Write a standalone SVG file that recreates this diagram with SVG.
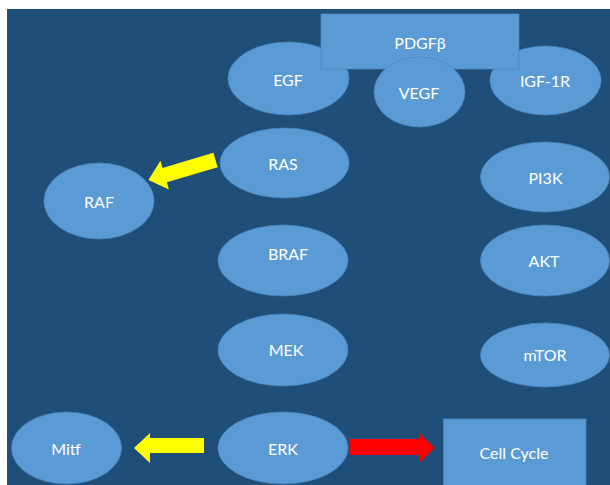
<svg xmlns="http://www.w3.org/2000/svg" width="610" height="485" viewBox="0 0 610 485">
<style>
.n{fill:#5B9BD5;stroke:#4A86BE;stroke-width:0.8}
.t{fill:#FFFFFF;font-family:Lato,"Open Sans","Liberation Sans",sans-serif;font-size:16px;text-anchor:middle;dominant-baseline:central}
.y{fill:#FFFF00}
.r{fill:#FF0000}
</style>
<rect x="0" y="0" width="610" height="485" fill="#FFFFFF"/>
<rect x="7" y="9" width="603" height="476" fill="#1F4E79"/>
<g id="EGF"><ellipse class="n" cx="288.5" cy="78.5" rx="60.5" ry="36.5"/><text class="t" x="288" y="79">EGF</text></g>
<g id="IGF-1R"><ellipse class="n" cx="545.5" cy="80.5" rx="55.5" ry="34.5"/><text class="t" x="545" y="80">IGF-1R</text></g>
<g id="PDGFb"><rect class="n" x="321" y="14" width="198" height="55"/><text class="t" x="420" y="42">PDGFβ</text></g>
<g id="VEGF"><ellipse class="n" cx="419.5" cy="92" rx="45.5" ry="35"/><text class="t" x="419" y="92">VEGF</text></g>
<g id="RAS"><ellipse class="n" cx="284.5" cy="163" rx="64.5" ry="35"/><text class="t" x="283" y="163">RAS</text></g>
<g id="RAF"><ellipse class="n" cx="99" cy="201" rx="55" ry="38"/><text class="t" x="99" y="201">RAF</text></g>
<g id="PI3K"><ellipse class="n" cx="545" cy="177" rx="64.5" ry="35"/><text class="t" x="545.5" y="177">PI3K</text></g>
<g id="BRAF"><ellipse class="n" cx="283" cy="260.5" rx="65" ry="35.5"/><text class="t" x="288" y="253">BRAF</text></g>
<g id="AKT"><ellipse class="n" cx="545" cy="260.5" rx="64.5" ry="35.5"/><text class="t" x="544" y="260">AKT</text></g>
<g id="MEK"><ellipse class="n" cx="283" cy="350" rx="65" ry="36"/><text class="t" x="286" y="349">MEK</text></g>
<g id="mTOR"><ellipse class="n" cx="545" cy="355" rx="64.5" ry="32"/><text class="t" x="545" y="354">mTOR</text></g>
<g id="Mitf"><ellipse class="n" cx="66.5" cy="448" rx="55" ry="36"/><text class="t" x="66" y="448">Mitf</text></g>
<g id="ERK"><ellipse class="n" cx="283" cy="448" rx="65" ry="36"/><text class="t" x="283" y="448">ERK</text></g>
<g id="CellCycle"><rect class="n" x="443.5" y="419" width="142.5" height="67"/><text class="t" x="514" y="452">Cell Cycle</text></g>
<g id="connectors">
<polygon class="y" transform="translate(215.5,160) rotate(163.4)" points="0,-7.5 53,-7.5 53,-15 70,0 53,15 53,7.5 0,7.5"/>
<polygon class="y" points="204,438 150,438 150,433 134,448 150,463 150,453 204,453"/>
<polygon class="r" points="349.5,439 419.5,439 419.5,433 434.6,448 419.5,463 419.5,455 349.5,455"/>
</g>
</svg>
